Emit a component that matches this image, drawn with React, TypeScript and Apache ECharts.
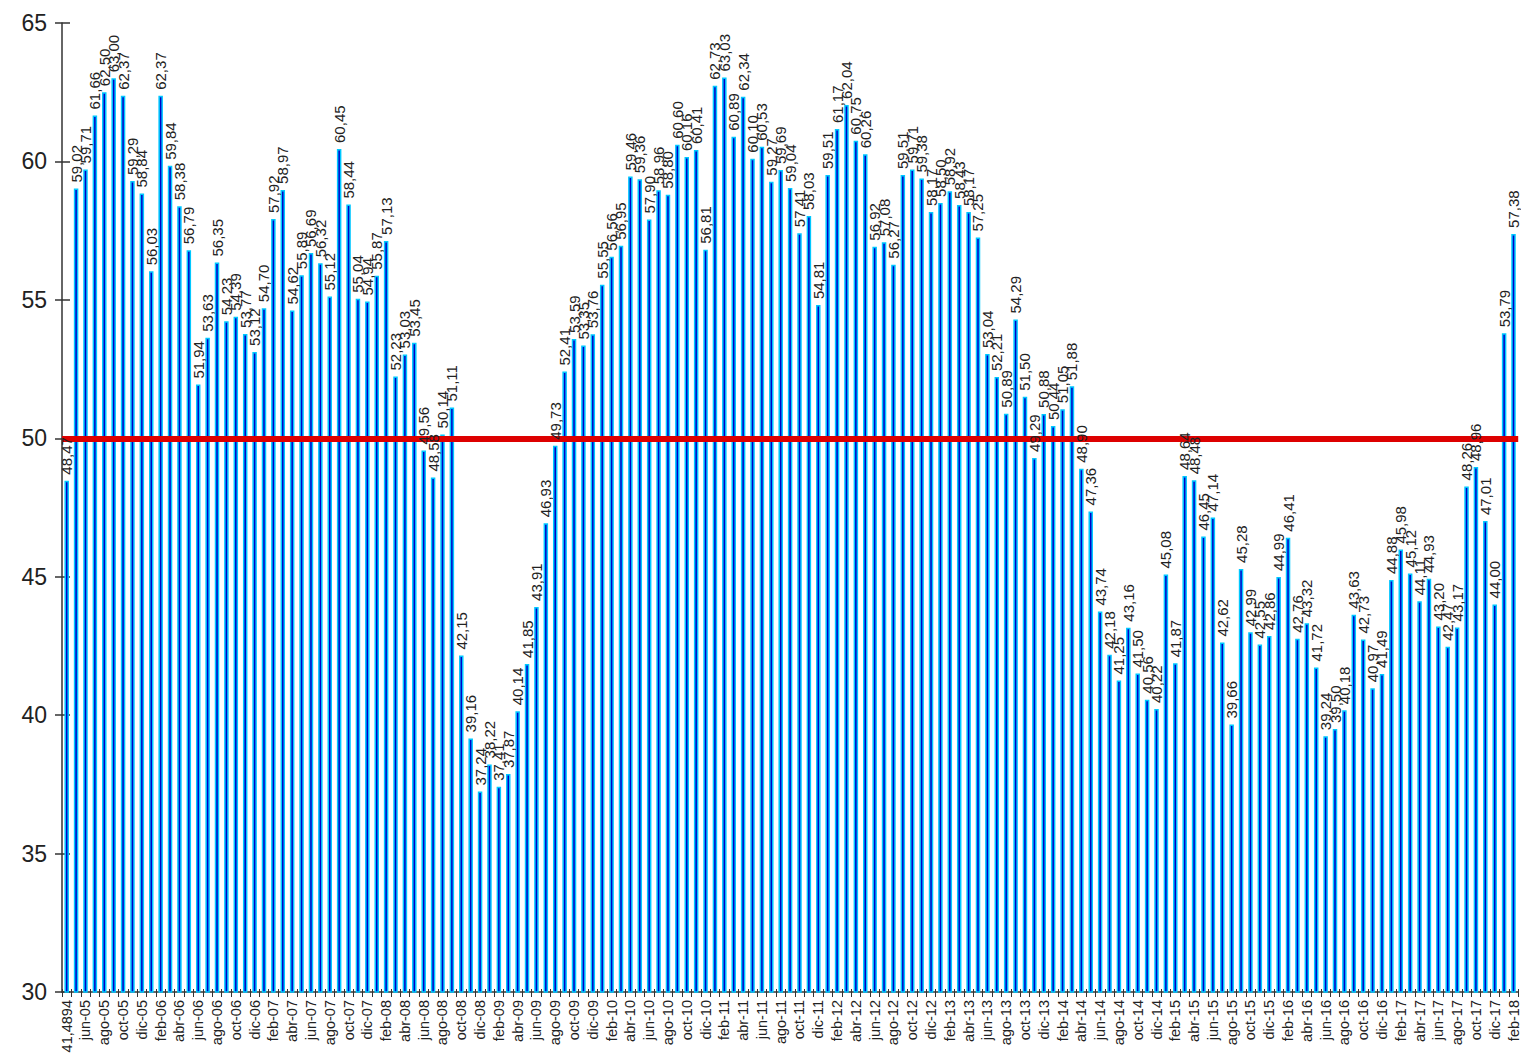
import React, { useEffect, useRef } from "react";
import * as echarts from "echarts";

const monthNames = ["ene", "feb", "mar", "abr", "may", "jun", "jul", "ago", "sep", "oct", "nov", "dic"];
const firstLabel = "41,4894";
const startYear = 2005;
const startMonth = 3; // abr

const v2005 = [48.47, 59.02, 59.71, 61.66, 62.5, 63.0, 62.37, 59.29, 58.84];
const v2006 = [56.03, 62.37, 59.84, 58.38, 56.79, 51.94, 53.63, 56.35, 54.23, 54.39, 53.77, 53.12];
const v2007 = [54.7, 57.92, 58.97, 54.62, 55.89, 56.69, 56.32, 55.12, 60.45, 58.44, 55.04, 54.94];
const v2008 = [55.87, 57.13, 52.23, 53.03, 53.45, 49.56, 48.58, 50.14, 51.11, 42.15, 39.16, 37.24];
const v2009 = [38.22, 37.41, 37.87, 40.14, 41.85, 43.91, 46.93, 49.73, 52.41, 53.59, 53.35, 53.76];
const v2010 = [55.55, 56.56, 56.95, 59.46, 59.36, 57.9, 58.96, 58.8, 60.6, 60.16, 60.41, 56.81];
const v2011 = [62.73, 63.03, 60.89, 62.34, 60.1, 60.53, 59.27, 59.69, 59.04, 57.41, 58.03, 54.81];
const v2012 = [59.51, 61.17, 62.04, 60.75, 60.26, 56.92, 57.08, 56.27, 59.51, 59.71, 59.38, 58.17];
const v2013 = [58.5, 58.92, 58.43, 58.17, 57.25, 53.04, 52.21, 50.89, 54.29, 51.5, 49.29, 50.88];
const v2014 = [50.44, 51.05, 51.88, 48.9, 47.36, 43.74, 42.18, 41.25, 43.16, 41.5, 40.56, 40.22];
const v2015 = [45.08, 41.87, 48.64, 48.48, 46.45, 47.14, 42.62, 39.66, 45.28, 42.99, 42.55, 42.86];
const v2016 = [44.99, 46.41, 42.76, 43.32, 41.72, 39.24, 39.5, 40.18, 43.63, 42.73, 40.97, 41.49];
const v2017 = [44.88, 45.98, 45.12, 44.11, 44.93, 43.2, 42.47, 43.17, 48.26, 48.96, 47.01, 44.0];
const v2018 = [53.79, 57.38];

const values: number[] = [
  ...v2005, ...v2006, ...v2007, ...v2008, ...v2009, ...v2010, ...v2011,
  ...v2012, ...v2013, ...v2014, ...v2015, ...v2016, ...v2017, ...v2018,
];

const categories: string[] = values.map((_, i) => {
  if (i === 0) return firstLabel;
  const m = (startMonth + i) % 12;
  const y = startYear + Math.floor((startMonth + i) / 12);
  return monthNames[m] + "-" + String(y % 100).padStart(2, "0");
});

const yTicks = { min: 30, max: 65, interval: 5 };
const threshold = 50;

const FONT = "'Liberation Sans', Arial, sans-serif";

export default function App() {
  const ref = useRef<HTMLDivElement>(null);
  useEffect(() => {
    if (!ref.current) return;
    const chart = echarts.init(ref.current, null, { renderer: "svg" });
    chart.setOption({
      animation: false,
      backgroundColor: "#ffffff",
      grid: { left: 62, right: 1, top: 23, bottom: 68, containLabel: false },
      xAxis: [
        {
          type: "category",
          data: categories,
          position: "bottom",
          axisLine: { show: true, lineStyle: { color: "#333", width: 1.5 } },
          axisTick: { show: true, interval: 0, length: 5, lineStyle: { color: "#333" } },
          axisLabel: {
            interval: 1,
            rotate: 90,
            fontSize: 14.5,
            fontFamily: FONT,
            color: "#222",
            margin: 8,
          },
          splitLine: { show: false },
        },
        {
          type: "category",
          data: categories,
          position: "bottom",
          offset: 0,
          axisLine: { show: false },
          axisTick: { show: true, inside: true, interval: 0, length: 3, lineStyle: { color: "#333" } },
          axisLabel: { show: false },
          splitLine: { show: false },
        },
      ],
      yAxis: [
        {
          type: "value",
          min: yTicks.min,
          max: yTicks.max,
          interval: yTicks.interval,
          axisLine: { show: true, lineStyle: { color: "#333", width: 1.5 } },
          axisTick: { show: true, length: 7, lineStyle: { color: "#333", width: 1.5 } },
          axisLabel: { fontSize: 23, fontFamily: FONT, color: "#222", margin: 15 },
          splitLine: { show: false },
        },
        {
          type: "value",
          position: "left",
          min: yTicks.min,
          max: yTicks.max,
          interval: yTicks.interval,
          axisLine: { show: false },
          axisTick: { show: true, inside: true, length: 8, lineStyle: { color: "#333", width: 1.5 } },
          axisLabel: { show: false },
          splitLine: { show: false },
        },
      ],
      series: [
        {
          type: "bar",
          name: "bars",
          xAxisIndex: 0,
          yAxisIndex: 0,
          z: 2,
          data: values,
          barWidth: 4.5,
          itemStyle: { color: "#0000C8", borderColor: "#00C8FF", borderWidth: 1.5 },
        },
        {
          type: "line",
          name: "threshold",
          xAxisIndex: 0,
          yAxisIndex: 0,
          z: 3,
          data: [],
          markLine: {
            silent: true,
            z: 3,
            symbol: "none",
            label: { show: false },
            lineStyle: { color: "#DD0000", width: 6, type: "solid" },
            data: [{ yAxis: threshold }],
          },
        },
        {
          type: "bar",
          name: "labels",
          xAxisIndex: 0,
          yAxisIndex: 0,
          z: 10,
          data: values,
          barWidth: 4.5,
          barGap: "-100%",
          itemStyle: { color: "rgba(0,0,0,0)" },
          label: {
            show: true,
            position: "top",
            rotate: 90,
            align: "left",
            verticalAlign: "middle",
            distance: 6,
            fontSize: 15,
            fontFamily: FONT,
            color: "#222",
            formatter: (p: any) => Number(p.value).toFixed(2).replace(".", ","),
          },
        },
      ],
    });
    return () => chart.dispose();
  }, []);
  return (
    <div
      ref={ref}
      style={{ position: "absolute", left: 0, top: 0, width: 1521, height: 1060 }}
    />
  );
}
